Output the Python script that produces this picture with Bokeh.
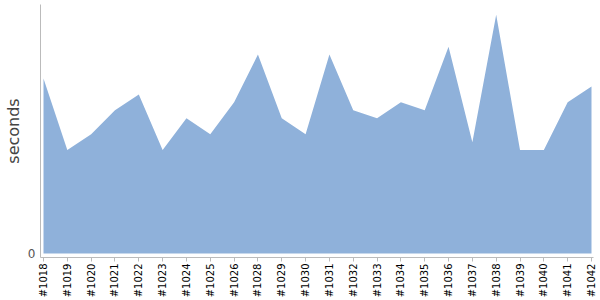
from bokeh.plotting import figure
from bokeh.models import FixedTicker, Range1d
from bokeh.embed import file_html
from bokeh.resources import INLINE
import math

builds = ["#1018", "#1019", "#1020", "#1021", "#1022", "#1023", "#1024", "#1025",
          "#1026", "#1028", "#1029", "#1030", "#1031", "#1032", "#1033", "#1034",
          "#1035", "#1036", "#1037", "#1038", "#1039", "#1040", "#1041", "#1042"]
seconds = [22, 13, 15, 18, 20, 13, 17, 15,
           19, 25, 17, 15, 25, 18, 17, 19,
           18, 26, 14, 30, 13, 13, 19, 21]

xs = list(range(len(builds)))

p = figure(width=600, height=300, output_backend="svg", toolbar_location=None,
           x_range=Range1d(-0.126, len(builds) - 1 + 0.084),
           y_range=Range1d(-0.5, 31.3),
           min_border_left=40, min_border_right=7, min_border_top=4, min_border_bottom=40)

p.varea(x=xs, y1=[0] * len(xs), y2=seconds, fill_color="#8FB1DA", fill_alpha=1.0)

p.xgrid.visible = False
p.ygrid.visible = False
p.outline_line_color = None
p.background_fill_color = "white"
p.border_fill_color = "white"

xa = p.xaxis[0]
xa.ticker = FixedTicker(ticks=xs)
xa.major_label_overrides = {i: b for i, b in enumerate(builds)}
xa.major_label_orientation = math.pi / 2
xa.major_label_text_font = "DejaVu Sans"
xa.major_label_text_font_size = "10px"
xa.major_label_text_color = "#000000"
xa.axis_line_color = "#bbbbbb"
xa.major_tick_line_color = "#bbbbbb"
xa.major_tick_in = 0
xa.major_tick_out = 4
xa.minor_tick_line_color = None
xa.major_label_standoff = 2

ya = p.yaxis[0]
ya.ticker = FixedTicker(ticks=[0])
ya.axis_label = "seconds"
ya.axis_label_text_font = "DejaVu Sans"
ya.axis_label_text_font_size = "16px"
ya.axis_label_text_font_style = "normal"
ya.axis_label_text_color = "#444444"
ya.axis_label_standoff = 2
ya.major_label_text_font = "DejaVu Sans"
ya.major_label_text_font_size = "12px"
ya.major_label_text_color = "#555555"
ya.axis_line_color = "#bbbbbb"
ya.major_tick_line_color = None
ya.major_tick_out = 0
ya.major_tick_in = 0
ya.minor_tick_line_color = None
ya.major_label_standoff = 5

open("out.html", "w").write(file_html(p, INLINE))
